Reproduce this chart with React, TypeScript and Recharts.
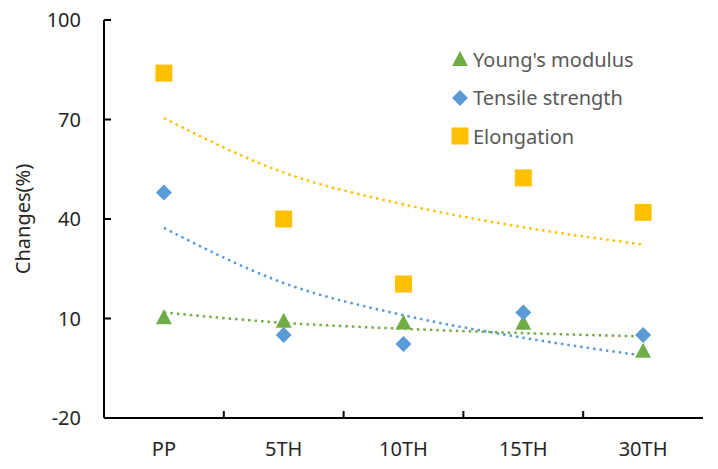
import { ComposedChart, Scatter, Line, XAxis, YAxis, Legend } from "recharts"

const categories = ["PP", "5TH", "10TH", "15TH", "30TH"]
const youngs = [10.4, 9.3, 8.8, 8.7, 0.3]
const tensile = [48, 5, 2.3, 11.8, 5]
const elongation = [84, 40, 20.4, 52.4, 42]
// dotted trend lines at each category
const youngsTrend = [11.8, 8.7, 6.9, 5.6, 4.6]
const tensileTrend = [37.3, 20.7, 11.0, 4.2, -1.2]
const elongationTrend = [70.4, 54.0, 44.4, 37.5, 32.3]
const yTicks = [-20, 10, 40, 70, 100]
const xTicks = [1, 1.5, 2, 2.5, 3, 3.5, 4, 4.5, 5]

const GREEN = "#70AD47"
const BLUE = "#5B9BD5"
const ORANGE = "#FFC000"
const FONT = "'Noto Sans', sans-serif"

const rows = categories.map((cat, i) => ({
  x: i + 1,
  cat,
  youngs: youngs[i],
  tensile: tensile[i],
  elongation: elongation[i],
  youngsTrend: youngsTrend[i],
  tensileTrend: tensileTrend[i],
  elongationTrend: elongationTrend[i],
}))

const legendItems = [
  { name: "Young's modulus", color: GREEN, shape: "triangle" },
  { name: "Tensile strength", color: BLUE, shape: "diamond" },
  { name: "Elongation", color: ORANGE, shape: "square" },
]

function Marker({ shape, color, cx, cy }: { shape: string; color: string; cx: number; cy: number }) {
  if (shape === "triangle") {
    return <polygon points={`${cx},${cy - 8} ${cx + 8},${cy + 7} ${cx - 8},${cy + 7}`} fill={color} />
  }
  if (shape === "diamond") {
    return <polygon points={`${cx},${cy - 8} ${cx + 8},${cy} ${cx},${cy + 8} ${cx - 8},${cy}`} fill={color} />
  }
  return <rect x={cx - 8.5} y={cy - 8.5} width={17} height={17} fill={color} />
}

function LegendBox() {
  return (
    <div style={{ fontFamily: FONT, fontSize: 20, color: "#595959" }}>
      {legendItems.map((it) => (
        <div key={it.name} style={{ display: "flex", alignItems: "center", height: 38.5 }}>
          <svg width={20} height={20} style={{ marginRight: 3 }}>
            <Marker shape={it.shape} color={it.color} cx={10} cy={10} />
          </svg>
          <span>{it.name}</span>
        </div>
      ))}
    </div>
  )
}

function YTick({ x, y, payload }: any) {
  return (
    <g>
      <line x1={x} x2={x + 7} y1={y} y2={y} stroke="#000" strokeWidth={2} />
      <text x={x - 23} y={y} dy={7} textAnchor="end" fontFamily={FONT} fontSize={20} fill="#262626">
        {payload.value}
      </text>
    </g>
  )
}

function XTick({ x, y, payload }: any) {
  const v = payload.value
  if (!Number.isInteger(v)) {
    return <line x1={x} x2={x} y1={y} y2={y - 7} stroke="#000" strokeWidth={2} />
  }
  return (
    <text x={x} y={y + 38} textAnchor="middle" fontFamily={FONT} fontSize={20} fill="#262626">
      {categories[v - 1]}
    </text>
  )
}

export default function App() {
  return (
    <div style={{ position: "absolute", left: 0, top: 0, background: "#fff" }}>
      <ComposedChart width={718} height={469} data={rows} margin={{ top: 20, right: 15, bottom: 0, left: 0 }}>
        <XAxis
          dataKey="x"
          type="number"
          domain={[0.5, 5.5]}
          ticks={xTicks}
          interval={0}
          height={51}
          tickSize={0}
          tickMargin={0}
          tickLine={false}
          tick={<XTick />}
          axisLine={{ stroke: "#000", strokeWidth: 2 }}
        />
        <XAxis
          xAxisId="top"
          orientation="top"
          type="number"
          domain={[0.5, 5.5]}
          height={0}
          tick={false}
          tickLine={false}
          axisLine={{ stroke: "#000", strokeWidth: 2 }}
        />
        <YAxis
          type="number"
          domain={[-20, 100]}
          ticks={yTicks}
          width={104}
          tickSize={0}
          tickMargin={0}
          tickLine={false}
          tick={<YTick />}
          axisLine={{ stroke: "#000", strokeWidth: 2 }}
          label={{
            content: ({ viewBox }: any) => (
              <text
                x={22}
                y={viewBox.y + viewBox.height / 2}
                transform={`rotate(-90, 22, ${viewBox.y + viewBox.height / 2})`}
                textAnchor="middle"
                dominantBaseline="central"
                fontFamily={FONT}
                fontSize={20}
                fill="#262626"
              >
                Changes(%)
              </text>
            ),
          }}
        />
        <YAxis
          yAxisId="right"
          orientation="right"
          domain={[-20, 100]}
          width={0}
          tick={false}
          tickLine={false}
          axisLine={{ stroke: "#000", strokeWidth: 2 }}
        />
        <Legend
          layout="vertical"
          align="center"
          verticalAlign="middle"
          content={<LegendBox />}
          wrapperStyle={{ left: 450, top: 40, width: 220 }}
        />
        <Line dataKey="elongationTrend" type="monotone" stroke={ORANGE} strokeWidth={2.5} strokeDasharray="2.5 4" dot={false} isAnimationActive={false} legendType="none" />
        <Line dataKey="tensileTrend" type="monotone" stroke={BLUE} strokeWidth={2.5} strokeDasharray="2.5 4" dot={false} isAnimationActive={false} legendType="none" />
        <Line dataKey="youngsTrend" type="monotone" stroke={GREEN} strokeWidth={2.5} strokeDasharray="2.5 4" dot={false} isAnimationActive={false} legendType="none" />
        <Scatter dataKey="youngs" isAnimationActive={false} shape={(p: any) => <Marker shape="triangle" color={GREEN} cx={p.cx} cy={p.cy} />} />
        <Scatter dataKey="tensile" isAnimationActive={false} shape={(p: any) => <Marker shape="diamond" color={BLUE} cx={p.cx} cy={p.cy} />} />
        <Scatter dataKey="elongation" isAnimationActive={false} shape={(p: any) => <Marker shape="square" color={ORANGE} cx={p.cx} cy={p.cy} />} />
      </ComposedChart>
    </div>
  )
}
